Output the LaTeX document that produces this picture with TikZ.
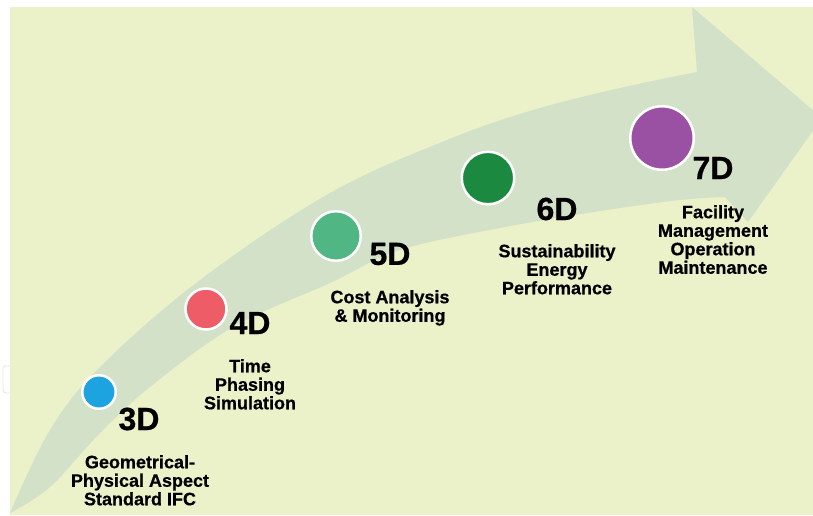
\documentclass[tikz,border=0pt]{standalone}
\usepackage{fontspec}
\setmainfont{Liberation Sans}[BoldFeatures={FakeBold=0.6}]
\definecolor{bg}{RGB}{235,241,201}
\definecolor{band}{RGB}{211,225,201}
\definecolor{cthree}{RGB}{29,163,223}
\definecolor{cfour}{RGB}{238,92,104}
\definecolor{cfive}{RGB}{80,182,132}
\definecolor{csix}{RGB}{27,138,64}
\definecolor{cseven}{RGB}{154,80,163}
\begin{document}
\begin{tikzpicture}[x=1pt,y=-1pt,
  dot/.style={circle, draw=white, line width=2.5pt, inner sep=0pt},
  dim/.style={font=\fontsize{32}{32}\selectfont\bfseries, inner sep=0pt},
  desc/.style={font=\fontsize{18}{18.5}\selectfont\bfseries, align=center, inner sep=0pt, anchor=north}]
\useasboundingbox (0,0) rectangle (813,515);
\draw[gray!20, line width=0.8pt, rounded corners=3pt] (3,366) rectangle (30,393);
\fill[bg] (10,7) rectangle (813,515);
\begin{scope}
\clip (10,7) rectangle (813,515);
\fill[band] plot[smooth,tension=0.6] coordinates {(10,513) (50,430) (100,367) (200,280) (330,193) (447,140) (533,110) (620,88) (697,72)}
  -- (692,7) -- (822,118) -- (748,222) -- (725,197)
  -- plot[smooth,tension=0.6] coordinates {(725,197) (680,200) (600,211) (500,228) (400,250) (330,283) (233,327) (150,387) (100,433) (50,487) (10,513)} -- cycle;
\end{scope}
% circles
\node[dot, fill=cthree, minimum size=33.5pt] (c3) at (99,392) {};
\node[dot, fill=cfour, minimum size=41pt] (c4) at (206,309) {};
\node[dot, fill=cfive, minimum size=49.5pt] (c5) at (336,236) {};
\node[dot, fill=csix, minimum size=52.5pt] (c6) at (488,178) {};
\node[dot, fill=cseven, minimum size=63.5pt] (c7) at (662,138) {};
% dimension labels
\node[dim] (l3) at (139,419) {3D};
\node[dim] (l4) at (250,323) {4D};
\node[dim] (l5) at (390,254) {5D};
\node[dim] (l6) at (557,209) {6D};
\node[dim] (l7) at (713,168) {7D};
% descriptions
\node[desc] (d3) at (140,455) {Geometrical-\\Physical Aspect\\Standard IFC};
\node[desc] (d4) at (250,359) {Time\\Phasing\\Simulation};
\node[desc] (d5) at (390,290) {Cost Analysis\\\& Monitoring};
\node[desc] (d6) at (557,244) {Sustainability\\Energy\\Performance};
\node[desc] (d7) at (713,205) {Facility\\Management\\Operation\\Maintenance};
\end{tikzpicture}
\end{document}
